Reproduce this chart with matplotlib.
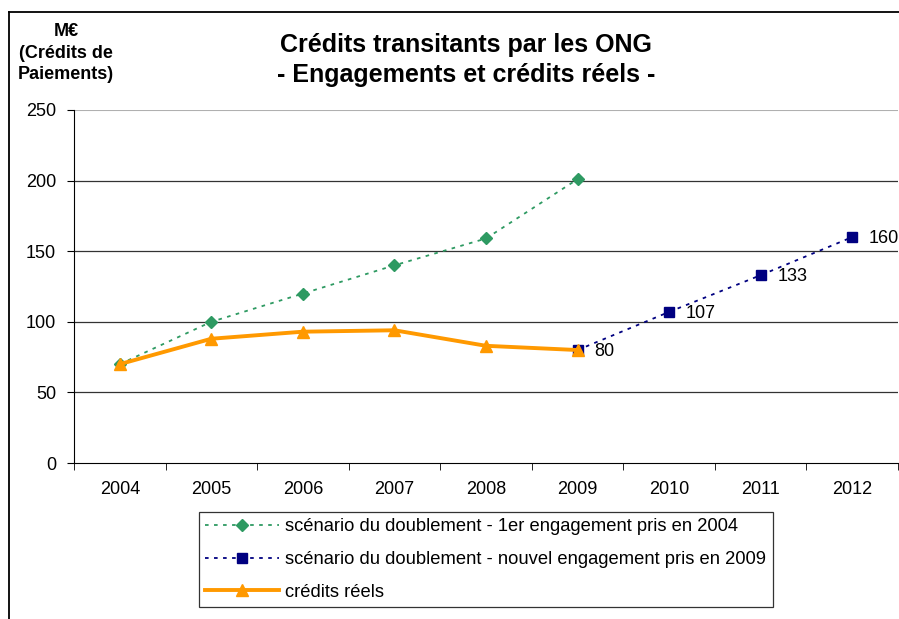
import numpy as np
import matplotlib.pyplot as plt
from matplotlib.lines import Line2D

plt.rcParams['font.family'] = ['Liberation Sans', 'DejaVu Sans']

annees = ['2004', '2005', '2006', '2007', '2008', '2009', '2010', '2011', '2012']
scenario_2004 = [70, 100, 120, 140, 159, 201]
scenario_2009 = [80, 107, 133, 160]
credits_reels = [70, 88, 93, 94, 83, 80]

x = np.arange(len(annees))

fig = plt.figure(figsize=(8.99, 6.19), dpi=100)
ax = fig.add_axes([74/899, 1-463/619, 824/899, 353/619])

ax.plot(x[:6], scenario_2004, color='#2E9A62', ls=(0, (2, 3)), lw=1.3,
        marker='D', ms=6, label='scénario du doublement - 1er engagement pris en 2004')
ax.plot(x[5:], scenario_2009, color='#000080', ls=(0, (2, 3)), lw=1.3,
        marker='s', ms=6.5, label='scénario du doublement - nouvel engagement pris en 2009')
ax.plot(x[:6], credits_reels, color='#FF9900', lw=2.8,
        marker='^', ms=9, label='crédits réels')

for xi, v in zip(x[5:], scenario_2009):
    ax.annotate(str(v), (xi, v), xytext=(12, -1), textcoords='offset points',
                fontsize=13, va='center', ha='left')

ax.set_xlim(-0.5, 8.5)
ax.set_ylim(0, 250)
ax.set_yticks(np.arange(0, 251, 50))
for v in range(50, 250, 50):
    ax.axhline(v, color='#333333', lw=0.9, zorder=0)
ax.axhline(250, color='#b0b0b0', lw=1.5, zorder=0)
ax.set_xticks(x)
ax.set_xticklabels(annees)
ax.set_xticks(np.arange(-0.5, 9, 1), minor=True)
ax.tick_params(axis='x', which='major', length=0, pad=13, labelsize=13)
ax.tick_params(axis='x', which='minor', length=5, direction='out')
ax.tick_params(axis='y', length=5, labelsize=13, pad=8)
for s in ['top', 'right']:
    ax.spines[s].set_visible(False)

fig.text(466/899, 1-45/619, 'Crédits transitants par les ONG', ha='center', va='center',
         fontsize=18, fontweight='bold')
fig.text(466/899, 1-75/619, '- Engagements et crédits réels -', ha='center', va='center',
         fontsize=18, fontweight='bold')
fig.text(66/899, 1-53/619, 'M€\n(Crédits de\nPaiements)', ha='center', va='center',
         fontsize=13, fontweight='bold', linespacing=1.38)

fig.add_artist(Line2D([9/899, 9/899], [0, 1-12/619], color='black', lw=1.3))
fig.add_artist(Line2D([9/899, 1], [1-12/619, 1-12/619], color='black', lw=1.3))

leg = fig.legend(loc='upper left', bbox_to_anchor=(199/899, 1-512/619), fontsize=13.2,
                 frameon=True, fancybox=False, edgecolor='black', handlelength=4.0,
                 borderpad=0.35, labelspacing=0.85, handletextpad=0.35,
                 borderaxespad=0)
leg.get_frame().set_linewidth(0.9)

fig.savefig('out.png', dpi=100)
